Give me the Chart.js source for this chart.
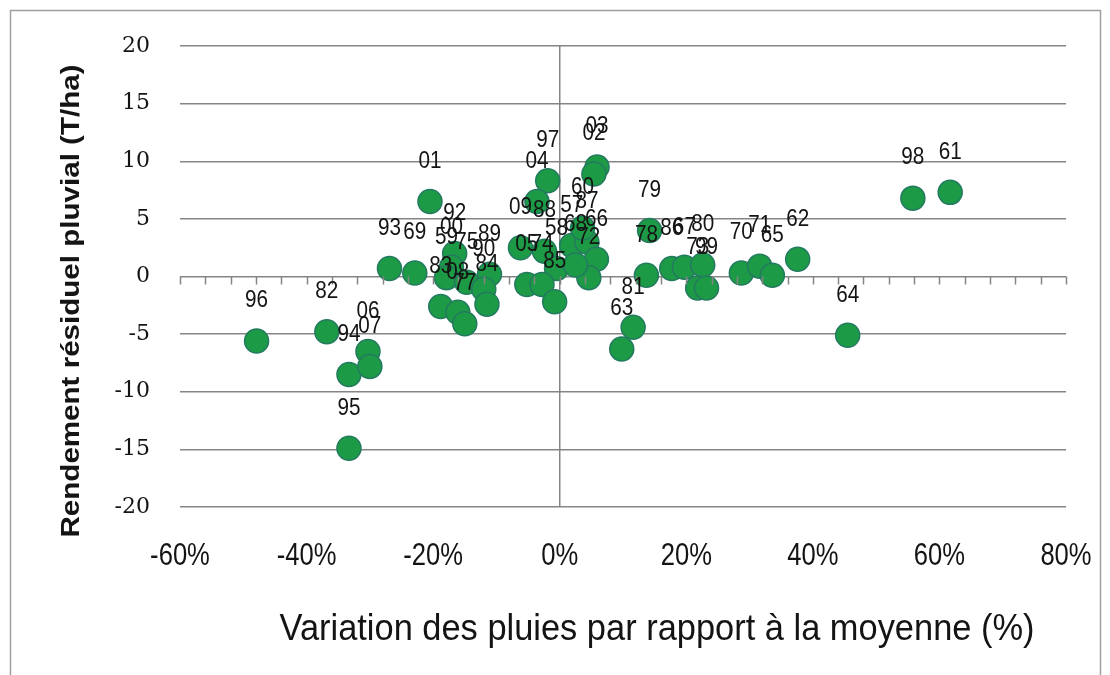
<!DOCTYPE html>
<html>
<head>
<meta charset="utf-8">
<script src="https://cdn.jsdelivr.net/npm/chart.js"></script>
<style>
  html, body { margin: 0; padding: 0; background: #fff; }
  canvas { display: block; }
</style>
</head>
<body>
<canvas id="rendementChart" width="1110" height="675"></canvas>
<script>
// Campagnes (années) et valeurs lues pour chaque point
const years = ['96', '82', '94', '06', '07', '95', '93', '69', '01',
  '92', '00', '59', '75', '89', '90', '83', '84', '08', '77',
  '97', '04', '09', '88', '57', '87', '60', '66', '72', '58', '68', '05', '74', '85',
  '03', '02', '79', '78', '86', '67', '80', '73', '99', '70', '71', '65', '62',
  '81', '63', '64', '98', '61'];

// Variation des pluies par rapport à la moyenne (%)
const rainVar = [-47.9, -36.8, -33.3, -30.3, -30.0, -33.3, -26.9, -22.9, -20.5,
  -16.6, -17.1, -17.9, -14.7, -11.1, -12.0, -18.8, -11.5, -16.1, -15.0,
  -1.9, -3.6, -6.2, -2.4, 1.9, 4.3, 3.6, 5.8, 4.6, -0.5, 2.5, -5.2, -2.8, -0.8,
  5.9, 5.4, 14.2, 13.7, 17.7, 19.7, 22.6, 21.8, 23.2, 28.7, 31.6, 33.6, 37.6,
  11.6, 9.8, 45.5, 55.8, 61.7];

// Rendement résiduel pluvial (T/ha)
const yieldRes = [-5.6, -4.8, -8.5, -6.5, -7.8, -14.9, 0.7, 0.3, 6.5,
  2.0, 0.8, -0.1, -0.5, 0.2, -1.1, -2.6, -2.4, -3.1, -4.1,
  8.3, 6.5, 2.5, 2.2, 2.7, 3.0, 4.2, 1.5, -0.1, 0.7, 1.0, -0.7, -0.7, -2.2,
  9.5, 8.9, 4.0, 0.1, 0.7, 0.8, 1.0, -1.0, -1.0, 0.3, 0.9, 0.1, 1.5,
  -4.4, -6.3, -5.1, 6.8, 7.3];

const xTicks = [-60, -40, -20, 0, 20, 40, 60, 80];
const yTicks = [-20, -15, -10, -5, 0, 5, 10, 15, 20];

const gridGray = '#858585';
const textColor = '#141414';

// texte resserré horizontalement (police étroite type Calibri)
function narrowText(ctx, text, x, y, font, squeeze, width) {
  ctx.save();
  ctx.font = font;
  let sx = squeeze;
  if (width) sx = width / ctx.measureText(text).width;
  ctx.translate(x, y);
  ctx.scale(sx, 1);
  ctx.fillText(text, 0, 0);
  ctx.restore();
}

// étiquettes d'année, graduations secondaires sur l'axe y = 0, libellés de l'axe x,
// titres des axes et cadre
const decorPlugin = {
  id: 'decor',
  afterDatasetsDraw(chart) {
    const ctx = chart.ctx;
    const xs = chart.scales.x;
    const ys = chart.scales.y;

    // graduations secondaires tous les 4 %
    ctx.save();
    ctx.strokeStyle = gridGray;
    ctx.lineWidth = 1.5;
    const y0 = ys.getPixelForValue(0);
    for (let v = -60; v <= 80; v += 4) {
      const px = Math.round(xs.getPixelForValue(v)) + 0.5;
      ctx.beginPath();
      ctx.moveTo(px, y0);
      ctx.lineTo(px, y0 + 8);
      ctx.stroke();
    }
    ctx.restore();

    // années au-dessus des points
    const meta = chart.getDatasetMeta(0);
    ctx.save();
    ctx.fillStyle = textColor;
    ctx.textAlign = 'center';
    ctx.textBaseline = 'middle';
    meta.data.forEach((pt, i) => {
      narrowText(ctx, years[i], pt.x, pt.y - 40, '23px "Liberation Sans"', 0.9);
    });
    ctx.restore();
  },
  afterDraw(chart) {
    const ctx = chart.ctx;
    const xs = chart.scales.x;
    ctx.save();
    ctx.fillStyle = textColor;
    ctx.textAlign = 'center';
    ctx.textBaseline = 'middle';

    // libellés de l'axe x
    xTicks.forEach(v => {
      narrowText(ctx, v + '%', xs.getPixelForValue(v), 556, '32px "Liberation Sans"', 0.8);
    });

    narrowText(ctx, 'Variation des pluies par rapport à la moyenne (%)', 657, 630,
      '37px "Liberation Sans"', 0, 755);

    ctx.translate(72, 301);
    ctx.rotate(-Math.PI / 2);
    narrowText(ctx, 'Rendement résiduel pluvial (T/ha)', 0, 0,
      'bold 26px "Liberation Sans"', 0, 473);
    ctx.restore();

    // cadre extérieur
    ctx.save();
    ctx.strokeStyle = '#a0a0a0';
    ctx.lineWidth = 1.5;
    ctx.beginPath();
    ctx.moveTo(10.5, 680);
    ctx.lineTo(10.5, 10.5);
    ctx.lineTo(1100.5, 10.5);
    ctx.lineTo(1100.5, 680);
    ctx.stroke();
    ctx.restore();
  }
};

const ctx = document.getElementById('rendementChart').getContext('2d');

new Chart(ctx, {
  type: 'scatter',
  data: {
    datasets: [{
      label: 'Rendement résiduel',
      data: rainVar.map((x, i) => ({ x: x, y: yieldRes[i] })),
      backgroundColor: '#1d9a45',
      borderColor: '#237a60',
      borderWidth: 1.5,
      pointRadius: 12,
      pointHoverRadius: 12
    }]
  },
  options: {
    responsive: false,
    animation: false,
    layout: {
      padding: { left: 20, right: 44, top: 46, bottom: 0 }
    },
    plugins: {
      legend: { display: false },
      tooltip: { enabled: false }
    },
    scales: {
      x: {
        type: 'linear',
        min: -60,
        max: 80,
        afterFit(scale) { scale.height = 168; },
        afterBuildTicks(scale) { scale.ticks = xTicks.map(v => ({ value: v })); },
        border: { display: false },
        grid: {
          color: c => (c.tick && c.tick.value === 0 ? gridGray : 'rgba(0,0,0,0)'),
          lineWidth: 1.5,
          drawTicks: false
        },
        ticks: { display: false }
      },
      y: {
        min: -20,
        max: 20,
        afterFit(scale) { scale.width = 160; },
        afterBuildTicks(scale) { scale.ticks = yTicks.map(v => ({ value: v })); },
        border: { display: false },
        grid: {
          color: gridGray,
          lineWidth: 1.5,
          drawTicks: false
        },
        ticks: {
          padding: 30,
          color: textColor,
          font: { family: '"DejaVu Serif", serif', size: 22 }
        }
      }
    }
  },
  plugins: [decorPlugin]
});
</script>
</body>
</html>
